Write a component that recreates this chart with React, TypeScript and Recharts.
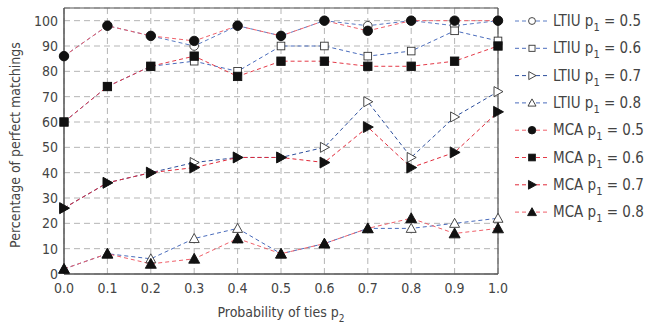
import {
  CartesianGrid,
  Label,
  Line,
  LineChart,
  ReferenceLine,
  XAxis,
  YAxis,
} from "recharts";

const probTies = [0, 0.1, 0.2, 0.3, 0.4, 0.5, 0.6, 0.7, 0.8, 0.9, 1.0];
const xTicks = [0, 0.1, 0.2, 0.3, 0.4, 0.5, 0.6, 0.7, 0.8, 0.9, 1.0];
const yTicks = [0, 10, 20, 30, 40, 50, 60, 70, 80, 90, 100];

const ltiu05 = [86, 98, 94, 90, 98, 94, 100, 98, 100, 98, 100];
const ltiu06 = [60, 74, 82, 84, 80, 90, 90, 86, 88, 96, 92];
const ltiu07 = [26, 36, 40, 44, 46, 46, 50, 68, 46, 62, 72];
const ltiu08 = [2, 8, 6, 14, 18, 8, 12, 18, 18, 20, 22];
const mca05 = [86, 98, 94, 92, 98, 94, 100, 96, 100, 100, 100];
const mca06 = [60, 74, 82, 86, 78, 84, 84, 82, 82, 84, 90];
const mca07 = [26, 36, 40, 42, 46, 46, 44, 58, 42, 48, 64];
const mca08 = [2, 8, 4, 6, 14, 8, 12, 18, 22, 16, 18];

type Shape = "circle" | "square" | "right" | "up";

const series: {
  key: string;
  method: string;
  p1: string;
  values: number[];
  color: string;
  shape: Shape;
  filled: boolean;
}[] = [
  { key: "ltiu05", method: "LTIU", p1: "0.5", values: ltiu05, color: "#5b7cc4", shape: "circle", filled: false },
  { key: "ltiu06", method: "LTIU", p1: "0.6", values: ltiu06, color: "#4a6cbc", shape: "square", filled: false },
  { key: "ltiu07", method: "LTIU", p1: "0.7", values: ltiu07, color: "#2d4f9c", shape: "right", filled: false },
  { key: "ltiu08", method: "LTIU", p1: "0.8", values: ltiu08, color: "#4a6cbc", shape: "up", filled: false },
  { key: "mca05", method: "MCA", p1: "0.5", values: mca05, color: "#f0606a", shape: "circle", filled: true },
  { key: "mca06", method: "MCA", p1: "0.6", values: mca06, color: "#e43a48", shape: "square", filled: true },
  { key: "mca07", method: "MCA", p1: "0.7", values: mca07, color: "#e02a3a", shape: "right", filled: true },
  { key: "mca08", method: "MCA", p1: "0.8", values: mca08, color: "#f0606a", shape: "up", filled: true },
];

const rows = probTies.map((p, i) => {
  const row: Record<string, number> = { p };
  series.forEach((s) => {
    row[s.key] = s.values[i];
  });
  return row;
});

const font = "'DejaVu Sans Condensed', 'DejaVu Sans', sans-serif";
const textColor = "#444";

const Marker = ({
  cx,
  cy,
  shape,
  filled,
  scale = 1,
}: {
  cx: number;
  cy: number;
  shape: Shape;
  filled: boolean;
  scale?: number;
}) => {
  const fill = filled ? "#111" : "#fff";
  const stroke = filled ? "#111" : "#333";
  const k = (filled ? 1.1 : 1) * scale;
  if (shape === "circle") {
    return <circle cx={cx} cy={cy} r={4.3 * k} fill={fill} stroke={stroke} strokeWidth={0.9} />;
  }
  if (shape === "square") {
    const h = 3.8 * k;
    return (
      <rect x={cx - h} y={cy - h} width={2 * h} height={2 * h} fill={fill} stroke={stroke} strokeWidth={0.9} />
    );
  }
  if (shape === "right") {
    const a = 5 * k;
    return (
      <polygon
        points={`${cx - a * 0.8},${cy - a} ${cx + a},${cy} ${cx - a * 0.8},${cy + a}`}
        fill={fill}
        stroke={stroke}
        strokeWidth={0.9}
      />
    );
  }
  const a = 5 * k;
  return (
    <polygon
      points={`${cx},${cy - a} ${cx + a},${cy + a * 0.8} ${cx - a},${cy + a * 0.8}`}
      fill={fill}
      stroke={stroke}
      strokeWidth={0.9}
    />
  );
};

const makeDot = (shape: Shape, filled: boolean) => (props: any) => {
  const { cx, cy, index } = props;
  if (cx == null || cy == null) return <g key={index} />;
  return <Marker key={index} cx={cx} cy={cy} shape={shape} filled={filled} />;
};

const XTitle = () => (
  <text x={281} y={317} textAnchor="middle" fontSize={14} fill={textColor} fontFamily={font}>
    Probability of ties p
    <tspan fontSize={10} dy={5}>
      2
    </tspan>
  </text>
);

const YTitle = () => (
  <text
    x={0}
    y={0}
    transform="translate(20,145) rotate(-90)"
    textAnchor="middle"
    fontSize={14}
    fill={textColor}
    fontFamily={font}
  >
    Percentage of perfect matchings
  </text>
);

const Legend = () => (
  <svg
    width={160}
    height={230}
    style={{ position: "absolute", left: 505, top: 8 }}
  >
    {series.map((s, i) => {
      const y = 13 + i * 27.3;
      return (
        <g key={s.key}>
          <line x1={10} x2={45} y1={y} y2={y} stroke={s.color} strokeDasharray="4 3" strokeWidth={1} />
          <Marker cx={27} cy={y} shape={s.shape} filled={s.filled} scale={0.8} />
          <text x={48} y={y + 5} fontSize={15} fill={textColor} fontFamily={font}>
            {s.method} p
            <tspan fontSize={11} dy={5}>
              1
            </tspan>
            <tspan dy={-5}> = {s.p1}</tspan>
          </text>
        </g>
      );
    })}
  </svg>
);

export default function App() {
  return (
    <div style={{ position: "absolute", left: 0, top: 0, width: 659, height: 329, background: "#fff" }}>
      <LineChart
        width={659}
        height={329}
        data={rows}
        margin={{ top: 8, right: 161, bottom: 0, left: 0 }}
      >
        <CartesianGrid stroke="#b5b5b5" strokeDasharray="6 4" />
        <XAxis
          dataKey="p"
          type="number"
          domain={[0, 1]}
          ticks={xTicks}
          tickFormatter={(v: number) => v.toFixed(1)}
          height={55}
          tickLine={false}
          tickSize={0}
          tickMargin={9}
          stroke="#555"
          strokeWidth={1.5}
          tick={{ fill: textColor, fontSize: 14, fontFamily: font }}
          interval={0}
        >
          <Label content={XTitle} />
        </XAxis>
        <YAxis
          type="number"
          domain={[0, 105]}
          ticks={yTicks}
          width={64}
          tickLine={false}
          tickSize={0}
          tickMargin={6}
          stroke="#555"
          strokeWidth={1.5}
          tick={{ fill: textColor, fontSize: 14, fontFamily: font }}
          interval={0}
        >
          <Label content={YTitle} />
        </YAxis>
        <ReferenceLine y={105} stroke="#555" strokeWidth={1.2} />
        <ReferenceLine x={1} stroke="#555" strokeWidth={1.2} />
        {series.map((s) => (
          <Line
            key={s.key}
            dataKey={s.key}
            name={`${s.method} p1 = ${s.p1}`}
            stroke={s.color}
            strokeWidth={1}
            strokeDasharray="4 3"
            dot={makeDot(s.shape, s.filled)}
            activeDot={false}
            isAnimationActive={false}
          />
        ))}
      </LineChart>
      <Legend />
    </div>
  );
}
